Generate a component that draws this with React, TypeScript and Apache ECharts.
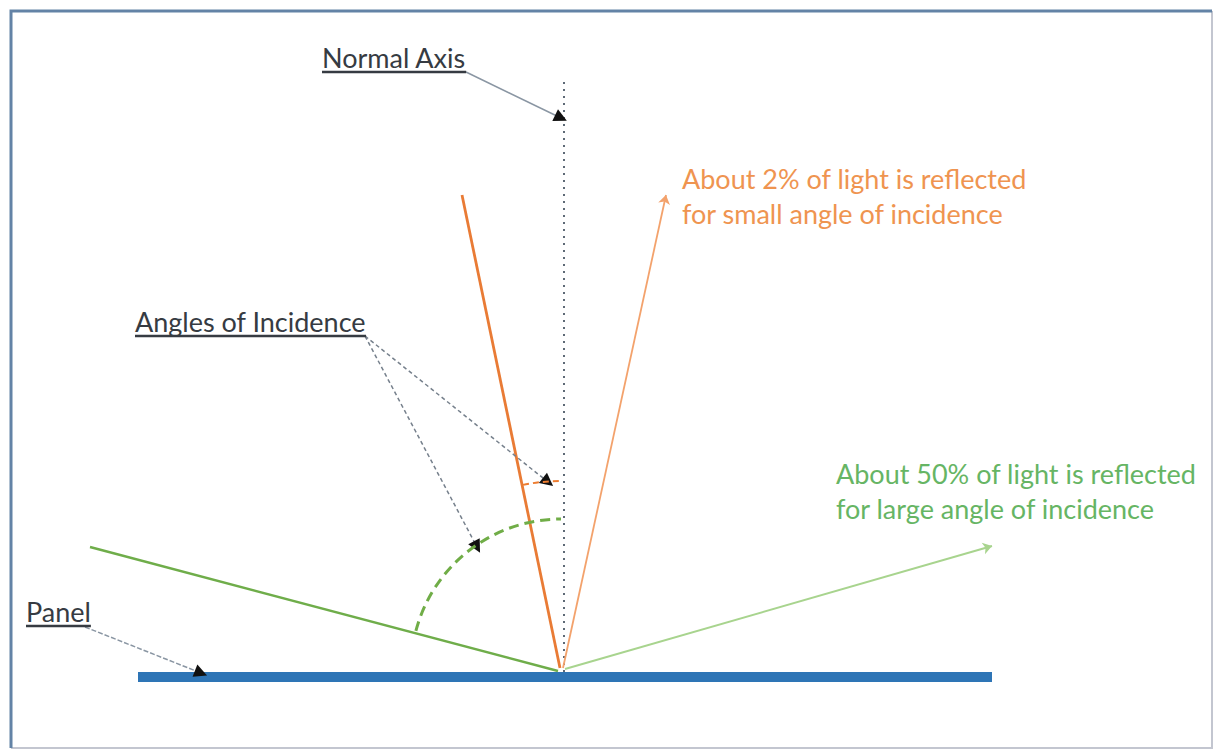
import React, { useEffect, useRef } from "react";
import * as echarts from "echarts";

const W = 1214;
const H = 751;

// Geometry in image-pixel data units (y grows downward)
const frameTopLeft = [[11, 748], [11, 11], [1212, 11]];
const frameBottomRight = [[1212, 11], [1212, 748], [11, 748]];
const panelLine = [[138, 677], [992, 677]];
const normalAxisLine = [[564, 82], [564, 672]];
const smallIncidentRay = [[462, 195], [560, 668]];
const smallReflectedRay = [[563, 668], [666, 195]];
const largeIncidentRay = [[90, 547], [558, 671]];
const largeReflectedRay = [[565, 669], [992, 546]];

const calloutNormal = [[466, 72], [561, 118]];
const calloutAngleSmall = [[365, 336], [548, 482]];
const calloutAngleLarge = [[365, 336], [477, 547]];
const calloutPanel = [[85, 627], [201, 673]];

// Angle arcs: center, radius, start/end angle (degrees, counter-clockwise from +x, y up)
const arcCenters = [[561, 669], [561, 668]];
const arcRadii = [150, 187];
const arcStartDeg = [165.3, 101.7];
const arcEndDeg = [90, 90];
const arcColors = ["#70ad47", "#ed7d31"];

// Text labels
const labelTexts = [
  "Normal Axis",
  "Angles of Incidence",
  "Panel",
  "About 2% of light is reflected",
  "for small angle of incidence",
  "About 50% of light is reflected",
  "for large angle of incidence",
];
const labelX = [322, 135, 26, 682, 682, 836, 836];
const labelY = [57, 321, 611, 178, 213, 473, 508];
const labelColors = ["#363b42", "#363b42", "#363b42", "#ef9450", "#ef9450", "#66b564", "#66b564"];
const labelUnderline = [true, true, true, false, false, false, false];

const FONT_FAMILY = "Lato, 'Open Sans', sans-serif";
const FONT_SIZE = 27;

function measure(text: string): number {
  const c = document.createElement("canvas").getContext("2d");
  if (!c) return text.length * 12;
  c.font = `${FONT_SIZE}px Lato`;
  return c.measureText(text).width;
}

export default function App() {
  const ref = useRef<HTMLDivElement>(null);
  useEffect(() => {
    if (!ref.current) return;
    const chart = echarts.init(ref.current, undefined, { renderer: "svg" });

    const lineSeries = (
      name: string,
      coords: number[][],
      color: string,
      width: number,
      type: any = "solid",
      symbol: any = "none",
      symbolSize: any = 0
    ) => ({
      name,
      type: "lines",
      coordinateSystem: "cartesian2d",
      polyline: coords.length > 2,
      silent: true,
      symbol,
      symbolSize,
      lineStyle: { color, width, type, opacity: 1, cap: "butt" },
      data: [{ coords }],
      z: 2,
    });

    const option: any = {
      animation: false,
      backgroundColor: "#ffffff",
      grid: { left: 0, right: 0, top: 0, bottom: 0 },
      xAxis: { type: "value", min: 0, max: W, show: false },
      yAxis: { type: "value", min: 0, max: H, inverse: true, show: false },
      series: [
        lineSeries("frameBR", frameBottomRight, "#c3c6d0", 2),
        lineSeries("frameTL", frameTopLeft, "#6383a6", 3),
        lineSeries("panel", panelLine, "#2e75b6", 10),
        lineSeries("normal", normalAxisLine, "#4d5a68", 1.8, [2, 5]),
        lineSeries("smallIncident", smallIncidentRay, "#e97b35", 2.8),
        lineSeries("smallReflected", smallReflectedRay, "#f3a26c", 1.8, "solid", ["none", "arrow"], 9),
        lineSeries("largeIncident", largeIncidentRay, "#6fad4a", 2.5),
        lineSeries("largeReflected", largeReflectedRay, "#a8d48e", 2, "solid", ["none", "arrow"], 9),
        lineSeries("calloutNormal", calloutNormal, "#8a96a3", 1.5),
        lineSeries("calloutAngleSmall", calloutAngleSmall, "#76808c", 1.5, [4, 3]),
        lineSeries("calloutAngleLarge", calloutAngleLarge, "#76808c", 1.5, [4, 3]),
        lineSeries("calloutPanel", calloutPanel, "#8a96a3", 1.5, [5, 2]),
        ...[calloutNormal, calloutAngleSmall, calloutAngleLarge, calloutPanel].map((c, i) =>
          lineSeries("head" + i, c, "#111111", 0, "solid", ["none", "triangle"], [11, 13])
        ),
        {
          name: "arcs",
          type: "custom",
          coordinateSystem: "cartesian2d",
          silent: true,
          clip: false,
          z: 3,
          data: arcCenters.map((c) => [c[0], c[1]]),
          encode: { x: 0, y: 1 },
          renderItem: (params: any, api: any) => {
            const i = params.dataIndex;
            const p = api.coord([arcCenters[i][0], arcCenters[i][1]]);
            const r = api.size([arcRadii[i], 0])[0];
            const s = (-arcStartDeg[i] * Math.PI) / 180;
            const e = (-arcEndDeg[i] * Math.PI) / 180;
            return {
              type: "arc",
              shape: { cx: p[0], cy: p[1], r, startAngle: s, endAngle: e, clockwise: true },
              style: {
                stroke: arcColors[i],
                lineWidth: i === 0 ? 3 : 2,
                lineDash: i === 0 ? [10, 6] : [6, 4],
                fill: "none",
              },
            };
          },
        },
        {
          name: "labels",
          type: "custom",
          coordinateSystem: "cartesian2d",
          silent: true,
          clip: false,
          z: 4,
          data: labelX.map((x, i) => [x, labelY[i]]),
          encode: { x: 0, y: 1 },
          renderItem: (params: any, api: any) => {
            const i = params.dataIndex;
            const p = api.coord([labelX[i], labelY[i]]);
            const children: any[] = [
              {
                type: "text",
                x: p[0],
                y: p[1],
                style: {
                  text: labelTexts[i],
                  fill: labelColors[i],
                  font: `${FONT_SIZE}px ${FONT_FAMILY}`,
                  textAlign: "left",
                  textVerticalAlign: "middle",
                },
              },
            ];
            if (labelUnderline[i]) {
              const w = measure(labelTexts[i]);
              children.push({
                type: "line",
                shape: { x1: p[0], y1: p[1] + 15, x2: p[0] + w, y2: p[1] + 15 },
                style: { stroke: "#363b42", lineWidth: 2.5 },
              });
            }
            return { type: "group", children };
          },
        },
      ],
    };
    chart.setOption(option);
    return () => chart.dispose();
  }, []);
  return (
    <div
      ref={ref}
      style={{ position: "fixed", left: 0, top: 0, width: W, height: H, background: "#fff" }}
    />
  );
}
